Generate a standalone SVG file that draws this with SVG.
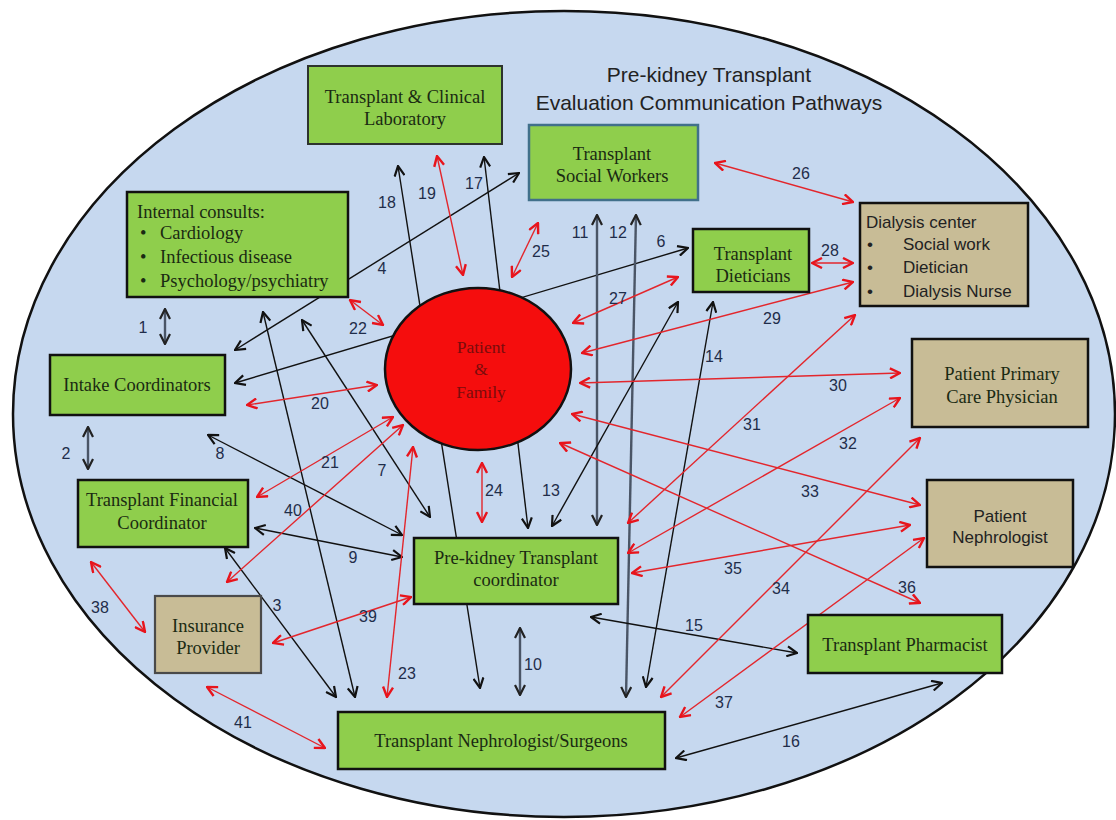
<svg xmlns="http://www.w3.org/2000/svg" width="1116" height="820" viewBox="0 0 1116 820">
<style>
.bg{fill:#c6d8ef;stroke:#111;stroke-width:2.5}
.g{fill:#8fce4c;stroke:#111;stroke-width:2.5}
.t{fill:#c8bc96;stroke:#111;stroke-width:2.5}
.ser{font-family:"Liberation Serif","Times New Roman",serif;font-size:18.5px;fill:#1a2a12}
.sans{font-family:"Liberation Sans",Arial,sans-serif;font-size:17px;fill:#222}
.num{font-family:"Liberation Sans",Arial,sans-serif;font-size:16px;fill:#1f2d4a;text-anchor:middle}
.ttl{font-family:"Liberation Sans",Arial,sans-serif;font-size:21px;fill:#222;text-anchor:middle}
.k{stroke:#111;stroke-width:1.4;fill:none;marker-start:url(#ak);marker-end:url(#ak)}
.gy{stroke:#4a5566;stroke-width:2.4;fill:none;marker-start:url(#ag);marker-end:url(#ag)}
.r{stroke:#e3262c;stroke-width:1.4;fill:none;marker-start:url(#ar);marker-end:url(#ar)}
.m{text-anchor:middle}
.pf{font-family:"Liberation Serif","Times New Roman",serif;font-size:17.5px;fill:#7a0c0c;text-anchor:middle}
</style>
<defs>
<marker id="ak" viewBox="0 0 12 12" refX="11" refY="6" markerWidth="12" markerHeight="12" markerUnits="userSpaceOnUse" orient="auto-start-reverse"><path d="M1,1 L11,6 L1,11" fill="none" stroke="#111" stroke-width="2.2"/></marker>
<marker id="ag" viewBox="0 0 12 12" refX="11" refY="6" markerWidth="12" markerHeight="12" markerUnits="userSpaceOnUse" orient="auto-start-reverse"><path d="M1,1 L11,6 L1,11" fill="none" stroke="#222" stroke-width="2.2"/></marker>
<marker id="ar" viewBox="0 0 12 12" refX="11" refY="6" markerWidth="12" markerHeight="12" markerUnits="userSpaceOnUse" orient="auto-start-reverse"><path d="M1,1 L11,6 L1,11" fill="none" stroke="#e8141c" stroke-width="2.4"/></marker>
</defs>
<rect width="1116" height="820" fill="#fff"/>
<ellipse class="bg" cx="564" cy="414" rx="551" ry="403"/>
<g id="title">
<text class="ttl" x="709" y="82">Pre-kidney Transplant</text>
<text class="ttl" x="709" y="110">Evaluation Communication Pathways</text>
</g>
<g id="connectors">
<line class="gy" x1="165" y1="309" x2="165" y2="344"/>
<line class="gy" x1="88" y1="427" x2="88" y2="469"/>
<line class="k" x1="225" y1="548" x2="336" y2="697"/>
<line class="k" x1="235" y1="350" x2="519" y2="173"/>
<line class="k" x1="235" y1="383" x2="688" y2="248"/>
<line class="k" x1="302" y1="320" x2="430" y2="517"/>
<line class="k" x1="208" y1="435" x2="402" y2="535"/>
<line class="k" x1="255" y1="528" x2="402" y2="557"/>
<line class="gy" x1="520" y1="628" x2="520" y2="695"/>
<line class="gy" x1="597" y1="215" x2="597" y2="525"/>
<line class="gy" x1="636" y1="215" x2="626" y2="697"/>
<line class="k" x1="552" y1="526" x2="678" y2="302"/>
<line class="k" x1="646" y1="687" x2="713" y2="302"/>
<line class="k" x1="591" y1="617" x2="797" y2="653"/>
<line class="k" x1="676" y1="758" x2="942" y2="683"/>
<line class="k" x1="484" y1="157" x2="528" y2="528"/>
<line class="k" x1="398" y1="166" x2="480" y2="688"/>
<line class="k" x1="263" y1="312" x2="355" y2="697"/>
<line class="r" x1="437" y1="156" x2="463" y2="275"/>
<line class="r" x1="247" y1="405" x2="377" y2="385"/>
<line class="r" x1="257" y1="497" x2="393" y2="417"/>
<line class="r" x1="350" y1="300" x2="383" y2="325"/>
<line class="r" x1="413" y1="447" x2="387" y2="697"/>
<line class="r" x1="482" y1="463" x2="482" y2="522"/>
<line class="r" x1="538" y1="223" x2="512" y2="277"/>
<line class="r" x1="715" y1="163" x2="853" y2="202"/>
<line class="r" x1="573" y1="323" x2="678" y2="277"/>
<line class="r" x1="812" y1="263" x2="853" y2="263"/>
<line class="r" x1="582" y1="353" x2="853" y2="282"/>
<line class="r" x1="580" y1="383" x2="900" y2="373"/>
<line class="r" x1="628" y1="523" x2="855" y2="315"/>
<line class="r" x1="628" y1="553" x2="900" y2="398"/>
<line class="r" x1="572" y1="414" x2="920" y2="505"/>
<line class="r" x1="661" y1="697" x2="920" y2="438"/>
<line class="r" x1="632" y1="573" x2="910" y2="525"/>
<line class="r" x1="560" y1="443" x2="920" y2="603"/>
<line class="r" x1="680" y1="717" x2="924" y2="538"/>
<line class="r" x1="91" y1="562" x2="145" y2="632"/>
<line class="r" x1="273" y1="643" x2="411" y2="597"/>
<line class="r" x1="403" y1="425" x2="227" y2="582"/>
<line class="r" x1="207" y1="687" x2="325" y2="748"/>
</g>
<g id="labels">
<text class="num" x="143" y="333">1</text>
<text class="num" x="66" y="459">2</text>
<text class="num" x="277" y="611">3</text>
<text class="num" x="382" y="274">4</text>
<text class="num" x="661" y="247">6</text>
<text class="num" x="382" y="476">7</text>
<text class="num" x="220" y="459">8</text>
<text class="num" x="353" y="563">9</text>
<text class="num" x="533" y="670">10</text>
<text class="num" x="580" y="238">11</text>
<text class="num" x="618" y="238">12</text>
<text class="num" x="551" y="496">13</text>
<text class="num" x="714" y="362">14</text>
<text class="num" x="694" y="631">15</text>
<text class="num" x="791" y="747">16</text>
<text class="num" x="474" y="189">17</text>
<text class="num" x="387" y="208">18</text>
<text class="num" x="427" y="199">19</text>
<text class="num" x="320" y="409">20</text>
<text class="num" x="330" y="468">21</text>
<text class="num" x="358" y="334">22</text>
<text class="num" x="407" y="679">23</text>
<text class="num" x="494" y="496">24</text>
<text class="num" x="541" y="257">25</text>
<text class="num" x="801" y="179">26</text>
<text class="num" x="618" y="304">27</text>
<text class="num" x="830" y="256">28</text>
<text class="num" x="772" y="324">29</text>
<text class="num" x="838" y="391">30</text>
<text class="num" x="752" y="430">31</text>
<text class="num" x="848" y="449">32</text>
<text class="num" x="810" y="497">33</text>
<text class="num" x="781" y="594">34</text>
<text class="num" x="733" y="574">35</text>
<text class="num" x="907" y="593">36</text>
<text class="num" x="724" y="708">37</text>
<text class="num" x="100" y="613">38</text>
<text class="num" x="368" y="622">39</text>
<text class="num" x="293" y="516">40</text>
<text class="num" x="243" y="728">41</text>
</g>
<g id="lab">
<rect x="308" y="66" width="194" height="78" fill="#8fce4c" stroke="#2d332d" stroke-width="2"/>
<text class="ser m" x="405" y="103">Transplant &amp; Clinical</text>
<text class="ser m" x="405" y="125">Laboratory</text>
</g>
<g id="social-workers">
<rect x="529" y="125" width="169" height="75" fill="#8fce4c" stroke="#41708a" stroke-width="2.5"/>
<text class="ser m" x="612" y="160">Transplant</text>
<text class="ser m" x="612" y="182">Social Workers</text>
</g>
<g id="internal-consults">
<rect class="g" x="127" y="192" width="221" height="105"/>
<text class="ser" x="137" y="218">Internal consults:</text>
<text class="ser" x="140" y="239">•</text><text class="ser" x="160" y="239">Cardiology</text>
<text class="ser" x="140" y="263">•</text><text class="ser" x="160" y="263">Infectious disease</text>
<text class="ser" x="140" y="287">•</text><text class="ser" x="160" y="287">Psychology/psychiatry</text>
</g>
<g id="dieticians">
<rect class="g" x="693" y="229" width="116" height="63"/>
<text class="ser m" x="753" y="260">Transplant</text>
<text class="ser m" x="753" y="282">Dieticians</text>
</g>
<g id="dialysis">
<rect class="t" x="860" y="203" width="168" height="103"/>
<text class="sans" x="866" y="228">Dialysis center</text>
<text class="sans" x="867" y="250">•</text><text class="sans" x="903" y="250">Social work</text>
<text class="sans" x="867" y="273">•</text><text class="sans" x="903" y="273">Dietician</text>
<text class="sans" x="867" y="297">•</text><text class="sans" x="903" y="297">Dialysis Nurse</text>
</g>
<g id="intake">
<rect class="g" x="50" y="355" width="175" height="60"/>
<text class="ser m" x="137" y="391">Intake Coordinators</text>
</g>
<g id="pcp">
<rect class="t" x="912" y="339" width="176" height="88"/>
<text class="ser m" x="1002" y="380">Patient Primary</text>
<text class="ser m" x="1002" y="403">Care Physician</text>
</g>
<g id="patient-family">
<ellipse cx="478" cy="369" rx="93" ry="81" fill="#f50d0d" stroke="#111" stroke-width="2.5"/>
<text class="pf" x="481" y="353">Patient</text>
<text class="pf" x="481" y="375">&amp;</text>
<text class="pf" x="481" y="398">Family</text>
</g>
<g id="financial">
<rect class="g" x="78" y="480" width="170" height="67"/>
<text class="ser m" x="162" y="506">Transplant Financial</text>
<text class="ser m" x="162" y="529">Coordinator</text>
</g>
<g id="patient-nephrologist">
<rect class="t" x="927" y="480" width="146" height="87"/>
<text class="sans m" x="1000" y="522">Patient</text>
<text class="sans m" x="1000" y="543">Nephrologist</text>
</g>
<g id="coordinator">
<rect class="g" x="414" y="538" width="204" height="66"/>
<text class="ser m" x="516" y="564">Pre-kidney Transplant</text>
<text class="ser m" x="516" y="586">coordinator</text>
</g>
<g id="insurance">
<rect x="155" y="596" width="106" height="77" fill="#c8bc96" stroke="#4a4a4a" stroke-width="2.2"/>
<text class="ser m" x="208" y="632">Insurance</text>
<text class="ser m" x="208" y="654">Provider</text>
</g>
<g id="pharmacist">
<rect class="g" x="808" y="615" width="194" height="58"/>
<text class="ser m" x="905" y="651">Transplant Pharmacist</text>
</g>
<g id="surgeons">
<rect class="g" x="338" y="712" width="327" height="57"/>
<text class="ser m" x="501" y="747">Transplant Nephrologist/Surgeons</text>
</g>
</svg>
